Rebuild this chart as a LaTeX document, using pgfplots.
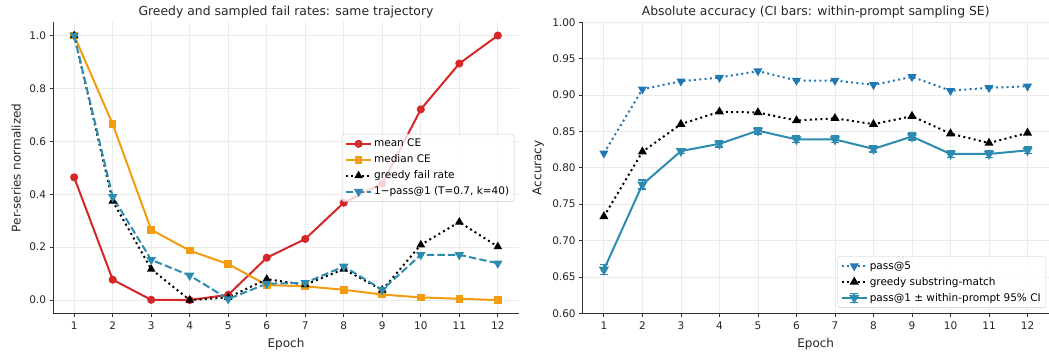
\documentclass[border=0pt]{standalone}
\usepackage{fontspec}
\setmainfont{DejaVu Sans}
\usepackage{pgfplots}
\pgfplotsset{compat=1.18}
\definecolor{cred}{HTML}{D62728}
\definecolor{corange}{HTML}{F39C12}
\definecolor{cteal}{HTML}{2E8BB0}
\definecolor{cblue}{HTML}{1F77B4}
\definecolor{cgrid}{HTML}{EBEBEB}
\definecolor{cspine}{HTML}{333333}
\pgfplotsset{mystyle/.style={
  scale only axis, width=466pt, height=291pt,
  xmin=0.45, xmax=12.55,
  axis x line*=bottom, axis y line*=left,
  axis line style={-, line width=0.8pt, color=cspine},
  tick align=outside, major tick length=3.5pt,
  tick style={line width=0.8pt, color=cspine},
  xtick={1,...,12},
  grid=major, major grid style={line width=0.8pt, color=cgrid},
  tick label style={font=\fontsize{10.5}{12}\selectfont, color=black!85},
  xticklabel style={yshift=-1.5pt},
  label style={font=\fontsize{12}{14}\selectfont, color=black!85},
  xlabel style={yshift=-1.5pt},
  ylabel style={yshift=1.5pt},
  title style={font=\fontsize{12.4}{14}\selectfont, color=black!85, yshift=-5.5pt},
  /pgf/number format/assume math mode=true,
  legend cell align=left,
  legend style={draw=black!20, fill=white, fill opacity=0.8, text opacity=1,
    rounded corners=2pt, font=\fontsize{10.5}{12.5}\selectfont, inner sep=3pt,
    row sep=2.5pt},
  legend image code/.code={\draw[mark repeat=2,mark phase=2,##1] plot coordinates {(0cm,0cm)(0.44cm,0cm)(0.88cm,0cm)};},
  xlabel={Epoch},
}}
\pgfplotsset{errlegend/.style={legend image code/.code={
    \draw[cteal, line width=1.5pt] (0.44cm,-4.5pt) -- (0.44cm,4.5pt)
      (0.44cm-4pt,4.5pt) -- (0.44cm+4pt,4.5pt) (0.44cm-4pt,-4.5pt) -- (0.44cm+4pt,-4.5pt);
    \draw[mark repeat=2,mark phase=2,##1] plot coordinates {(0cm,0cm)(0.44cm,0cm)(0.88cm,0cm)};}}}
\begin{document}
\begin{tikzpicture}
\useasboundingbox (0,0) rectangle (1049pt,351pt);
\begin{axis}[mystyle, at={(53pt,37.7pt)}, anchor=south west,
  ymin=-0.05, ymax=1.05, ytick={0,0.2,...,1.0},
  yticklabel style={/pgf/number format/.cd, fixed, fixed zerofill, precision=1},
  title={Greedy and sampled fail rates: same trajectory},
  ylabel={Per-series normalized},
  legend style={at={(0.99,0.5)}, anchor=east}]
\addplot[color=cred, line width=2pt, mark=*, mark size=3pt] coordinates {
(1,0.464) (2,0.077) (3,0.001) (4,0.0) (5,0.02) (6,0.16) (7,0.231) (8,0.368) (9,0.44) (10,0.721) (11,0.894) (12,1.0)};
\addlegendentry{mean CE}
\addplot[color=corange, line width=2pt, mark=square*, mark size=2.8pt] coordinates {
(1,1.0) (2,0.665) (3,0.266) (4,0.187) (5,0.136) (6,0.057) (7,0.052) (8,0.039) (9,0.021) (10,0.010) (11,0.005) (12,0.0)};
\addlegendentry{median CE}
\addplot[color=black, line width=2pt, dash pattern=on 2pt off 3.3pt, mark=triangle*, mark size=3pt, mark options={solid}] coordinates {
(1,1.0) (2,0.374) (3,0.117) (4,0.0) (5,0.01) (6,0.079) (7,0.058) (8,0.117) (9,0.038) (10,0.209) (11,0.295) (12,0.202)};
\addlegendentry{greedy fail rate}
\addplot[color=cteal, line width=2pt, dash pattern=on 7.4pt off 3.2pt, mark=triangle*, mark size=3.5pt, mark options={solid, rotate=180}] coordinates {
(1,1.0) (2,0.39) (3,0.152) (4,0.093) (5,0.004) (6,0.062) (7,0.065) (8,0.127) (9,0.039) (10,0.171) (11,0.171) (12,0.139)};
\addlegendentry{1−pass@1 (T=0.7, k=40)}
\end{axis}
\begin{axis}[mystyle, at={(582.7pt,37.7pt)}, anchor=south west,
  ymin=0.6, ymax=1.0, ytick={0.6,0.65,...,1.0},
  yticklabel style={/pgf/number format/.cd, fixed, fixed zerofill, precision=2},
  title={Absolute accuracy (CI bars: within-prompt sampling SE)},
  ylabel={Accuracy},
  legend style={at={(0.994,0.019)}, anchor=south east}]
\addplot[color=cblue, line width=2pt, dash pattern=on 2pt off 3.3pt, mark=triangle*, mark size=3.3pt, mark options={solid, rotate=180}] coordinates {
(1,0.820) (2,0.908) (3,0.919) (4,0.924) (5,0.933) (6,0.920) (7,0.920) (8,0.914) (9,0.925) (10,0.906) (11,0.910) (12,0.912)};
\addlegendentry{pass@5}
\addplot[color=black, line width=2pt, dash pattern=on 2pt off 3.3pt, mark=triangle*, mark size=3.3pt, mark options={solid}] coordinates {
(1,0.733) (2,0.822) (3,0.860) (4,0.877) (5,0.876) (6,0.865) (7,0.868) (8,0.860) (9,0.871) (10,0.847) (11,0.834) (12,0.848)};
\addlegendentry{greedy substring-match}
\addplot[color=cteal, line width=2pt, mark=triangle*, mark size=4pt, mark options={solid, rotate=180}, errlegend,
  error bars/.cd, y dir=both, y explicit, error bar style={line width=1.5pt, color=cteal},
  error mark options={rotate=90, mark size=4pt, line width=1.5pt, color=cteal}] coordinates {
(1,0.660) +- (0,0.007)
(2,0.777) +- (0,0.006)
(3,0.823) +- (0,0.0035)
(4,0.833) +- (0,0.0045)
(5,0.851) +- (0,0.0045)
(6,0.839) +- (0,0.0045)
(7,0.839) +- (0,0.0045)
(8,0.826) +- (0,0.0045)
(9,0.843) +- (0,0.0045)
(10,0.819) +- (0,0.0045)
(11,0.819) +- (0,0.0045)
(12,0.824) +- (0,0.0045)};
\addlegendentry{pass@1 ± within-prompt 95\% CI}
\end{axis}
\end{tikzpicture}
\end{document}
